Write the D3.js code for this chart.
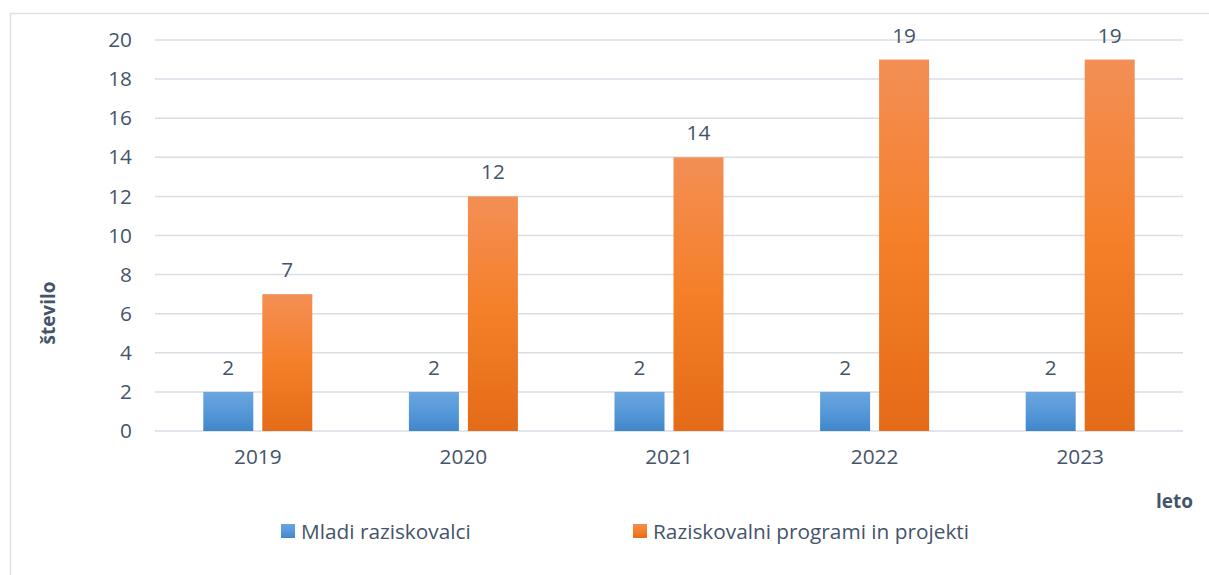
<!DOCTYPE html>
<html>
<head>
<meta charset="utf-8">
<script src="https://cdn.jsdelivr.net/npm/d3@7"></script>
<style>
  body { margin: 0; background: #fff; }
  svg text { font-family: "Open Sans", "Noto Sans", sans-serif; fill: #44546a; }
</style>
</head>
<body>
<div id="chart"></div>
<script>
// chart data
const years = ['2019', '2020', '2021', '2022', '2023'];
const seriesNames = ['Mladi raziskovalci', 'Raziskovalni programi in projekti'];
const mladi = [2, 2, 2, 2, 2];
const programi = [7, 12, 14, 19, 19];
const yTicks = [0, 2, 4, 6, 8, 10, 12, 14, 16, 18, 20];

const W = 1209, H = 575;
const plot = { left: 155, right: 1183, top: 40, bottom: 431 };
const fontSize = 20.8;

const svg = d3.select('#chart').append('svg')
    .attr('width', W)
    .attr('height', H);

// gradients like office bar fills
const defs = svg.append('defs');
const gradients = [
    { id: 'gBlue', stops: [['0%', '#6ba6de'], ['55%', '#5497d8'], ['100%', '#3f86c9']] },
    { id: 'gOrange', stops: [['0%', '#f38f55'], ['50%', '#f57f29'], ['100%', '#e46b17']] }
];
gradients.forEach(g => {
    const lg = defs.append('linearGradient')
        .attr('id', g.id)
        .attr('x1', 0).attr('y1', 0).attr('x2', 0).attr('y2', 1);
    g.stops.forEach(s => lg.append('stop').attr('offset', s[0]).attr('stop-color', s[1]));
});

// outer frame
svg.append('rect')
    .attr('x', 10.5).attr('y', 13.5)
    .attr('width', 1400).attr('height', 800)
    .attr('fill', 'none')
    .attr('stroke', '#dde1e8')
    .attr('stroke-width', 1.5);

const x0 = d3.scaleBand()
    .domain(years)
    .range([plot.left, plot.right]);

const groupW = 109;
const x1 = d3.scaleBand()
    .domain(seriesNames)
    .range([x0.bandwidth() / 2 - groupW / 2, x0.bandwidth() / 2 + groupW / 2])
    .paddingInner(0.1525);

const y = d3.scaleLinear()
    .domain([0, 20])
    .range([plot.bottom, plot.top]);

// grid
svg.append('g')
    .selectAll('line')
    .data(yTicks)
    .join('line')
    .attr('x1', plot.left)
    .attr('x2', plot.right)
    .attr('y1', d => y(d))
    .attr('y2', d => y(d))
    .attr('stroke', '#d9dde4')
    .attr('stroke-width', 1.5);

// y axis labels
const yAxis = svg.append('g')
    .attr('transform', `translate(${plot.left}, 0)`)
    .call(d3.axisLeft(y).tickValues(yTicks).tickSize(0).tickPadding(23));
yAxis.select('.domain').remove();
yAxis.selectAll('text')
    .attr('font-size', fontSize)
    .attr('fill', '#44546a')
    .style('font-family', '"Open Sans", sans-serif');

// x axis labels
const xAxis = svg.append('g')
    .attr('transform', `translate(0, ${plot.bottom})`)
    .call(d3.axisBottom(x0).tickSize(0).tickPadding(18));
xAxis.select('.domain').remove();
xAxis.selectAll('text')
    .attr('font-size', fontSize)
    .attr('fill', '#44546a')
    .style('font-family', '"Open Sans", sans-serif');

// bars
const rows = years.map((yr, i) => ({
    year: yr,
    values: [
        { key: seriesNames[0], value: mladi[i], fill: 'url(#gBlue)' },
        { key: seriesNames[1], value: programi[i], fill: 'url(#gOrange)' }
    ]
}));

const groups = svg.append('g')
    .selectAll('g')
    .data(rows)
    .join('g')
    .attr('transform', d => `translate(${x0(d.year)}, 0)`);

groups.selectAll('rect')
    .data(d => d.values)
    .join('rect')
    .attr('x', d => x1(d.key))
    .attr('y', d => y(d.value))
    .attr('width', x1.bandwidth())
    .attr('height', d => y(0) - y(d.value))
    .attr('fill', d => d.fill);

groups.selectAll('text.val')
    .data(d => d.values)
    .join('text')
    .attr('class', 'val')
    .attr('x', d => x1(d.key) + x1.bandwidth() / 2)
    .attr('y', d => y(d.value) - 17)
    .attr('text-anchor', 'middle')
    .attr('font-size', fontSize)
    .text(d => d.value);

// axis titles
svg.append('text')
    .attr('transform', 'translate(55, 313) rotate(-90)')
    .attr('text-anchor', 'middle')
    .attr('font-size', 19)
    .attr('font-weight', 'bold')
    .text('število');

svg.append('text')
    .attr('x', 1193)
    .attr('y', 508)
    .attr('text-anchor', 'end')
    .attr('font-size', 19)
    .attr('font-weight', 'bold')
    .text('leto');

// legend
const legendX = [281, 633];
const legend = svg.append('g')
    .selectAll('g')
    .data(seriesNames)
    .join('g')
    .attr('transform', (d, i) => `translate(${legendX[i]}, 524)`);

legend.append('rect')
    .attr('width', 14)
    .attr('height', 14)
    .attr('fill', (d, i) => i === 0 ? 'url(#gBlue)' : 'url(#gOrange)');

legend.append('text')
    .attr('x', 20)
    .attr('y', 14.5)
    .attr('font-size', fontSize)
    .text(d => d);
</script>
</body>
</html>
